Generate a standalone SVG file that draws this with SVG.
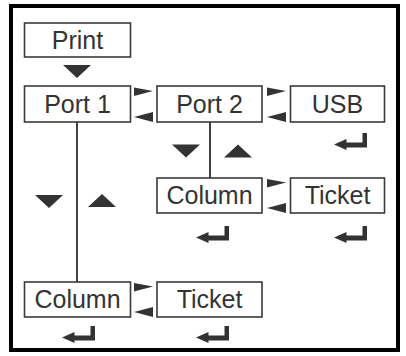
<svg xmlns="http://www.w3.org/2000/svg" width="406" height="356" viewBox="0 0 406 356">
<defs>
<style>
.box{fill:#fff;stroke:#3a3a3a;stroke-width:1.6}
.t{font-family:"Liberation Sans",Arial,sans-serif;font-size:25px;fill:#333;text-anchor:middle}
.ln{stroke:#111;stroke-width:1.6;fill:none}
</style>
<path id="ret" d="M28.5,0 L33,0 L33,14.5 L12.5,14.5 L12.5,17 L0,11.5 L12.5,6 L12.5,9.5 L28.5,9.5 Z" fill="#333"/>
<polygon id="rt" points="0,0 0,8.5 19,3.5" fill="#333"/>
<polygon id="lt" points="19,0 19,10 0,5" fill="#333"/>
<polygon id="dn" points="0,0 28,0 14,13" fill="#333"/>
<polygon id="up" points="0,13 28,13 14,0" fill="#333"/>
</defs>
<rect x="11" y="6" width="387" height="344" fill="none" stroke="#000" stroke-width="4"/>
<g id="connectors">
<line class="ln" x1="77" y1="122" x2="77" y2="282"/>
<line class="ln" x1="210" y1="122" x2="210" y2="178"/>
<use href="#dn" x="63" y="65"/>
<use href="#rt" x="134" y="87.5"/>
<use href="#lt" x="134" y="112"/>
<use href="#rt" x="267" y="87.5"/>
<use href="#lt" x="267" y="112"/>
<use href="#dn" x="172" y="144.5"/>
<use href="#up" x="224" y="144.5"/>
<use href="#dn" x="35" y="195"/>
<use href="#up" x="88" y="194"/>
<use href="#rt" x="267" y="179"/>
<use href="#lt" x="267" y="203"/>
<use href="#rt" x="134" y="283"/>
<use href="#lt" x="134" y="307"/>
<use href="#ret" x="334" y="133"/>
<use href="#ret" x="196" y="226"/>
<use href="#ret" x="334" y="226"/>
<use href="#ret" x="62" y="326"/>
<use href="#ret" x="196" y="326"/>
</g>
<g id="print"><rect class="box" x="24.5" y="23" width="106" height="34"/><text class="t" x="77.5" y="48.9">Print</text></g>
<g id="port1"><rect class="box" x="24.5" y="86" width="106" height="36"/><text class="t" x="77.5" y="112.9">Port 1</text></g>
<g id="port2"><rect class="box" x="157" y="86" width="105" height="36"/><text class="t" x="209.5" y="112.9">Port 2</text></g>
<g id="usb"><rect class="box" x="290.5" y="86" width="94" height="36"/><text class="t" x="337.5" y="112.9">USB</text></g>
<g id="column2"><rect class="box" x="157" y="178" width="105" height="35"/><text class="t" x="209.5" y="204.4">Column</text></g>
<g id="ticket2"><rect class="box" x="290.5" y="178" width="94" height="35"/><text class="t" x="337.5" y="204.4">Ticket</text></g>
<g id="column1"><rect class="box" x="24.5" y="282" width="106" height="35"/><text class="t" x="77.5" y="308.4">Column</text></g>
<g id="ticket1"><rect class="box" x="157" y="282" width="105" height="35"/><text class="t" x="209.5" y="308.4">Ticket</text></g>
</svg>
